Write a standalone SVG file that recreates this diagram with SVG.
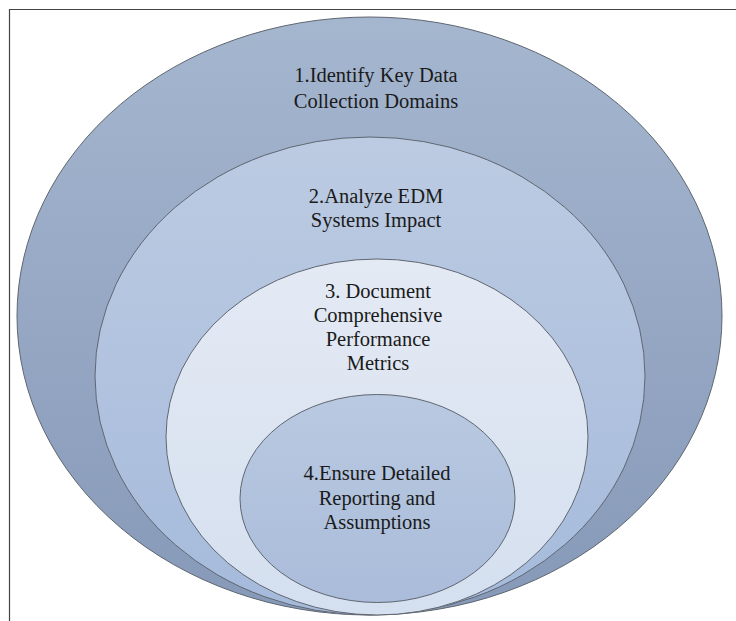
<svg xmlns="http://www.w3.org/2000/svg" width="736" height="621" viewBox="0 0 736 621">
<style>
.ring{stroke:#5f6670;stroke-width:1}
.t{font-family:"Liberation Serif","DejaVu Serif",serif;font-size:20.5px;fill:#1a1a1a;text-anchor:middle}
</style>
<defs>
<linearGradient id="g1" x1="0" y1="0" x2="0" y2="1"><stop offset="0" stop-color="#a5b6cf"/><stop offset="1" stop-color="#8699b8"/></linearGradient>
<linearGradient id="g2" x1="0" y1="0" x2="0" y2="1"><stop offset="0" stop-color="#bccbe2"/><stop offset="1" stop-color="#a5badb"/></linearGradient>
<linearGradient id="g3" x1="0" y1="0" x2="0" y2="1"><stop offset="0" stop-color="#e4eaf4"/><stop offset="1" stop-color="#d4dfef"/></linearGradient>
<linearGradient id="g4" x1="0" y1="0" x2="0" y2="1"><stop offset="0" stop-color="#b9c9e1"/><stop offset="1" stop-color="#aabcda"/></linearGradient>
</defs>
<rect x="0" y="0" width="736" height="621" fill="#ffffff"/>
<path d="M9.5 640 V9.5 H740" fill="none" stroke="#444" stroke-width="1.2"/>
<g id="node1"><ellipse class="ring" cx="369.5" cy="316" rx="352.5" ry="299" fill="url(#g1)"/>
<text class="t" x="376" y="82">1.Identify Key Data</text><text class="t" x="376" y="108">Collection Domains</text></g>
<g id="node2"><ellipse class="ring" cx="370" cy="376" rx="275" ry="239" fill="url(#g2)"/>
<text class="t" x="376" y="203">2.Analyze EDM</text><text class="t" x="376" y="227">Systems Impact</text></g>
<g id="node3"><ellipse class="ring" cx="377" cy="437" rx="211" ry="178" fill="url(#g3)"/>
<text class="t" x="378" y="298">3. Document</text><text class="t" x="378" y="322">Comprehensive</text><text class="t" x="378" y="346">Performance</text><text class="t" x="378" y="370">Metrics</text></g>
<g id="node4"><ellipse class="ring" cx="377.5" cy="498.5" rx="137.5" ry="104" fill="url(#g4)"/>
<text class="t" x="377" y="480">4.Ensure Detailed</text><text class="t" x="377" y="505">Reporting and</text><text class="t" x="377" y="529">Assumptions</text></g>
<g id="connectors"/>
</svg>
